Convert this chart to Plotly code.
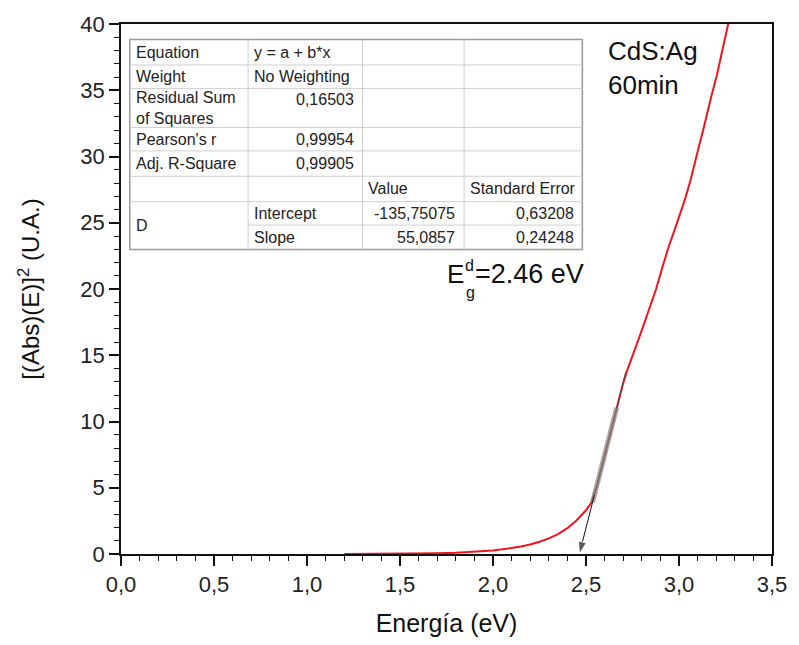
import plotly.graph_objects as go

# ---------------- data ----------------
energy = [1.20, 1.30, 1.40, 1.50, 1.60, 1.70, 1.80, 1.90, 2.00, 2.05, 2.10, 2.15,
          2.20, 2.25, 2.30, 2.35, 2.40, 2.45, 2.50, 2.53, 2.56, 2.60, 2.65, 2.68,
          2.70, 2.72, 2.745, 2.78, 2.813, 2.85, 2.877, 2.91, 2.947, 2.98, 3.009,
          3.035, 3.062, 3.085, 3.106, 3.13, 3.15, 3.175, 3.203, 3.23, 3.261, 3.28]
absorb = [0.00, 0.00, 0.01, 0.02, 0.03, 0.05, 0.09, 0.16, 0.27, 0.35, 0.45, 0.57,
          0.72, 0.92, 1.18, 1.50, 1.95, 2.55, 3.30, 3.90, 5.20, 7.40, 10.2, 11.9,
          12.9, 13.8, 14.7, 16.1, 17.4, 18.9, 20.0, 21.6, 23.3, 24.6, 25.75,
          26.9, 28.2, 29.4, 30.7, 32.0, 33.2, 34.6, 36.1, 37.8, 39.8, 41.0]

fit_intercept = -135.75075
fit_slope = 55.0857
fit_range = [2.535, 2.665]      # fitted region (thick gray)
fit_extent = [2.545, 2.713]     # thin extrapolated line
arrow_from_x = 2.545

sample_label = ["CdS:Ag", "60min"]
eg_text = "=2.46 eV"

table_rows = [
    ["Equation", "y = a + b*x", "", ""],
    ["Weight", "No Weighting", "", ""],
    ["Residual Sum<br>of Squares", "0,16503", "", ""],
    ["Pearson's r", "0,99954", "", ""],
    ["Adj. R-Square", "0,99905", "", ""],
    ["", "", "Value", "Standard Error"],
    ["D", "Intercept", "-135,75075", "0,63208"],
    ["", "Slope", "55,0857", "0,24248"],
]

# ---------------- layout geometry (pixels) ----------------
W, H = 799, 645
L, R, T, B = 121, 787, 14, 557


def px(xp):
    return (xp - L) / (R - L)


def py(yp):
    return (B - yp) / (B - T)


FONT = "Liberation Sans, Arial, sans-serif"

fig = go.Figure()

fig.add_trace(go.Scatter(x=energy, y=absorb, mode="lines",
                         line=dict(color="#f0141e", width=2), showlegend=False))

fx = fit_extent
fig.add_trace(go.Scatter(x=fx, y=[fit_intercept + fit_slope * v for v in fx],
                         mode="lines", line=dict(color="#4a4a4a", width=1),
                         showlegend=False))
fr = fit_range
fig.add_trace(go.Scatter(x=fr, y=[fit_intercept + fit_slope * v for v in fr],
                         mode="lines", line=dict(color="rgba(135,135,135,0.7)", width=5),
                         showlegend=False))

# arrow from fit line down to the x-intercept
x0 = -fit_intercept / fit_slope
fig.add_trace(go.Scatter(x=[arrow_from_x, x0],
                         y=[fit_intercept + fit_slope * arrow_from_x, 0],
                         mode="lines+markers",
                         line=dict(color="#111", width=1),
                         marker=dict(symbol=["circle", "arrow"], size=[0, 13],
                                     angleref="previous", color="#111",
                                     standoff=[0, 0]),
                         showlegend=False, cliponaxis=False))

annotations = []
# sample label
annotations.append(dict(x=px(618), y=py(25), xref="paper", yref="paper",
                        xanchor="left", yanchor="top", align="left", borderpad=0,
                        text="<br>".join(sample_label), showarrow=False,
                        font=dict(family=FONT, size=26, color="#111")))

# E_g^d label
annotations.append(dict(x=px(453), y=py(270), xref="paper", yref="paper",
                        xanchor="left", yanchor="middle", text="E", showarrow=False,
                        borderpad=0, font=dict(family=FONT, size=26, color="#111")))
annotations.append(dict(x=px(472), y=py(261), xref="paper", yref="paper",
                        xanchor="left", yanchor="middle", text="d", showarrow=False,
                        borderpad=0, font=dict(family=FONT, size=16, color="#111")))
annotations.append(dict(x=px(473), y=py(289), xref="paper", yref="paper",
                        xanchor="left", yanchor="middle", text="g", showarrow=False,
                        borderpad=0, font=dict(family=FONT, size=16, color="#111")))
annotations.append(dict(x=px(482), y=py(270), xref="paper", yref="paper",
                        xanchor="left", yanchor="middle", text=eg_text, showarrow=False,
                        borderpad=0, font=dict(family=FONT, size=27, color="#111")))

# ---------------- table ----------------
col_edges = [130, 251, 368, 472, 593]
row_edges = [30, 56, 80, 120, 144, 170, 196, 220, 245]
shapes = []
shapes.append(dict(type="rect", xref="paper", yref="paper",
                   x0=px(col_edges[0]), x1=px(col_edges[-1]),
                   y0=py(row_edges[-1]), y1=py(row_edges[0]),
                   line=dict(color="#9a9a9a", width=1.5), fillcolor="white", layer="below"))
for i, ye in enumerate(row_edges[1:-1], start=1):
    xs = col_edges[1] if i == 7 else col_edges[0]
    shapes.append(dict(type="line", xref="paper", yref="paper",
                       x0=px(xs), x1=px(col_edges[-1]), y0=py(ye), y1=py(ye),
                       line=dict(color="#cfcfcf", width=1)))
for xe in col_edges[1:-1]:
    shapes.append(dict(type="line", xref="paper", yref="paper",
                       x0=px(xe), x1=px(xe), y0=py(row_edges[-1]), y1=py(row_edges[0]),
                       line=dict(color="#cfcfcf", width=1)))


def is_num(s):
    return len(s) > 0 and (s[0].isdigit() or s[0] == "-")


for r, row in enumerate(table_rows):
    multi = any("<br>" in c for c in row)
    for c, txt in enumerate(row):
        if not txt:
            continue
        top, bot = row_edges[r], row_edges[r + 1]
        if txt == "D":
            bot = row_edges[r + 2]
        if multi and "<br>" not in txt:
            ycen = top + 11
        else:
            ycen = (top + bot) / 2
        if is_num(txt):
            xa, xanchor = col_edges[c + 1] - 8, "right"
        else:
            xa, xanchor = col_edges[c] + 5, "left"
        annotations.append(dict(x=px(xa), y=py(ycen), xref="paper", yref="paper",
                                xanchor=xanchor, yanchor="middle", align="left",
                                text=txt, showarrow=False, borderpad=0,
                                font=dict(family=FONT, size=16, color="#222")))

axis_common = dict(showline=True, linecolor="#111", linewidth=1.5, mirror=True,
                   ticks="outside", ticklen=10, tickwidth=1.5, tickcolor="#111",
                   showgrid=False, zeroline=False, ticklabeloverflow="allow",
                   tickfont=dict(family=FONT, size=22, color="#222"))

fig.update_layout(
    width=W, height=H,
    margin=dict(l=L, r=W - R, t=T, b=H - B),
    paper_bgcolor="white", plot_bgcolor="white",
    separators=",.",
    showlegend=False,
    xaxis=dict(range=[0, 3.5], dtick=0.5, tick0=0, tickformat=".1f",
               minor=dict(dtick=0.1, ticklen=5, tickwidth=1.2, tickcolor="#111", ticks="outside"),
               title=dict(text="Energía (eV)", standoff=18,
                          font=dict(family=FONT, size=25, color="#111")),
               **axis_common),
    yaxis=dict(range=[0, 40], dtick=5, tick0=0,
               minor=dict(dtick=1, ticklen=5, tickwidth=1.2, tickcolor="#111", ticks="outside"),
               title=dict(text="[(Abs)(E)]<sup>2</sup> (U.A.)", standoff=34,
                          font=dict(family=FONT, size=24, color="#111")),
               **axis_common),
    annotations=annotations,
    shapes=shapes,
)

fig.write_html("out.html")
